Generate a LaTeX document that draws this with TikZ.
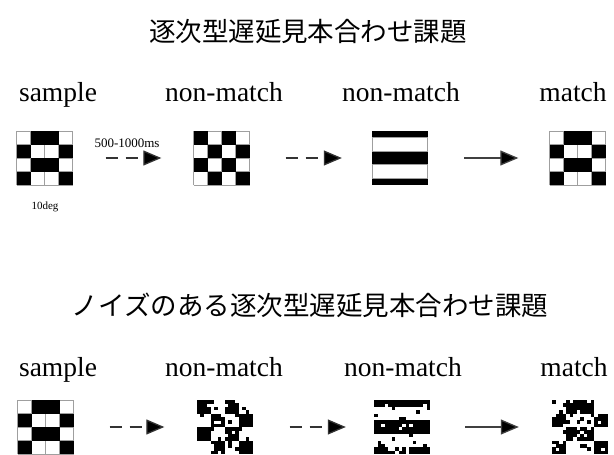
\documentclass[tikz,border=0pt]{standalone}
\usepackage{fontspec}
\setmainfont{Liberation Serif}
\newfontfamily\cjk{Noto Sans CJK JP}
\usetikzlibrary{arrows.meta}

% regular 4x4 pattern: #1 x0, #2 y0, #3 w, #4 h, #5 type (1 sample/match, 2 checker)
\newcommand\regpat[5]{%
  \fill[white] (#1,#2) rectangle ++(#3,#4);
  \foreach \k in {0,...,4}{
    \draw[gridline] ({#1+\k*#3/4},#2) -- ++(0,#4);
    \draw[gridline] (#1,{#2+\k*#4/4}) -- ++(#3,0);
  }
  \foreach \cc in {0,...,3}{\foreach \rr in {0,...,3}{
    \pgfmathtruncatemacro\bb{#5==1 ? (mod(\rr,2)==0 ? ((\cc==1||\cc==2)?1:0) : ((\cc==0||\cc==3)?1:0)) : (mod(\cc+\rr,2)==0?1:0)}
    \ifnum\bb=1 \fill[black] ({#1+\cc*#3/4},{#2+\rr*#4/4}) rectangle ++({#3/4},{#4/4});\fi
  }}%
}
% stripes
\newcommand\stripepat[4]{%
  \fill[black] (#1,#2) rectangle ++(#3,#4);
  \filldraw[fill=white,gridline] ({#1+0.8},{#2+#4/8}) rectangle ({#1+#3-0.8},{#2+3*#4/8});
  \filldraw[fill=white,gridline] ({#1+0.8},{#2+5*#4/8}) rectangle ({#1+#3-0.8},{#2+7*#4/8});
}
% noisy pattern: #1 x0, #2 y0, #3 w, #4 h, #5 type (1,2,3), #6 seed
\newcommand\noisypat[6]{%
  \fill[white] (#1,#2) rectangle ++(#3,#4);
  \pgfmathsetseed{#6}%
  \foreach \i in {0,...,15}{\foreach \j in {0,...,15}{
    \pgfmathtruncatemacro\cc{floor(\i/4)}
    \pgfmathtruncatemacro\rr{floor(\j/4)}
    \pgfmathtruncatemacro\bb{#5==1 ? (mod(\rr,2)==0 ? ((\cc==1||\cc==2)?1:0) : ((\cc==0||\cc==3)?1:0)) : (#5==2 ? (mod(\cc+\rr,2)==0?1:0) : ((\j<2||(\j>5&&\j<10)||\j>13)?1:0))}
    \pgfmathsetmacro\u{rnd}
    \pgfmathtruncatemacro\ff{\u<0.09?1:0}
    \pgfmathtruncatemacro\blk{abs(\bb-\ff)}
    \ifnum\blk=1 \fill[black] ({#1+\i*#3/16},{#2+\j*#4/16}) rectangle ++({#3/16+0.3},{#4/16+0.3});\fi
  }}%
}

\begin{document}
\begin{tikzpicture}[x=1pt,y=-1pt,
  gridline/.style={draw=gray!75,line width=0.8pt},
  patbox/.style={rectangle,inner sep=0pt,minimum width=56pt,minimum height=54pt},
  title/.style={font=\cjk\fontsize{26.5}{30}\selectfont},
  lab/.style={font=\fontsize{27.5}{30}\selectfont,anchor=base},
  small/.style={font=\fontsize{13}{15}\selectfont},
  dasharrow/.style={line width=1.3pt,draw=black!80,dash pattern=on 12pt off 8pt,-{Triangle[length=18pt,width=15pt,fill=black]},shorten <=33pt,shorten >=32pt},
  solidarrow/.style={line width=1.3pt,draw=black!75,-{Triangle[length=18pt,width=15pt,fill=black]},shorten <=36pt,shorten >=31pt}
]
\useasboundingbox (0,0) rectangle (614,455);
\fill[white] (0,0) rectangle (614,455);

% titles
\node[title] (t1) at (308,32) {逐次型遅延見本合わせ課題};
\node[title] (t2) at (310,305) {ノイズのある逐次型遅延見本合わせ課題};

% top labels
\node[lab] (l1) at (58,101) {sample};
\node[lab] (l2) at (224,101) {non-match};
\node[lab] (l3) at (401,101) {non-match};
\node[lab] (l4) at (573,101) {match};
% bottom labels
\node[lab] (m1) at (58,376) {sample};
\node[lab] (m2) at (224,376) {non-match};
\node[lab] (m3) at (403,376) {non-match};
\node[lab] (m4) at (574,376) {match};

% top patterns
\node[patbox] (p1) at (44.5,158) {};
\node[patbox] (p2) at (221.5,158) {};
\node[patbox] (p3) at (400,158) {};
\node[patbox] (p4) at (577.5,158) {};
\regpat{16.5}{131}{56}{54}{1}
\regpat{193.5}{131}{56}{54}{2}
\stripepat{372}{131}{56}{54}
\regpat{549.5}{131}{56}{54}{1}

\node[small] (ms) at (127,143) {500-1000ms};
\node[small,font=\fontsize{11}{13}\selectfont] (deg) at (45,207) {10deg};

\draw[dasharrow] (p1.east) -- (p2.west);
\draw[dasharrow,shorten <=36pt,shorten >=30pt] (p2.east) -- (p3.west);
\draw[solidarrow] (p3.east) -- (p4.west);

% bottom patterns
\node[patbox] (q1) at (45.5,427) {};
\node[patbox] (q2) at (224.5,427) {};
\node[patbox] (q3) at (402,427) {};
\node[patbox] (q4) at (580,427) {};
\regpat{17.5}{400}{56}{54}{1}
\noisypat{196.5}{400}{56}{54}{2}{7}
\noisypat{374}{400}{56}{54}{3}{11}
\noisypat{552}{400}{56}{54}{1}{23}

\draw[dasharrow,shorten <=36pt,shorten >=32pt] (q1.east) -- (q2.west);
\draw[dasharrow,shorten <=37pt,shorten >=28pt] (q2.east) -- (q3.west);
\draw[solidarrow,shorten <=35pt,shorten >=33pt] (q3.east) -- (q4.west);
\end{tikzpicture}
\end{document}
